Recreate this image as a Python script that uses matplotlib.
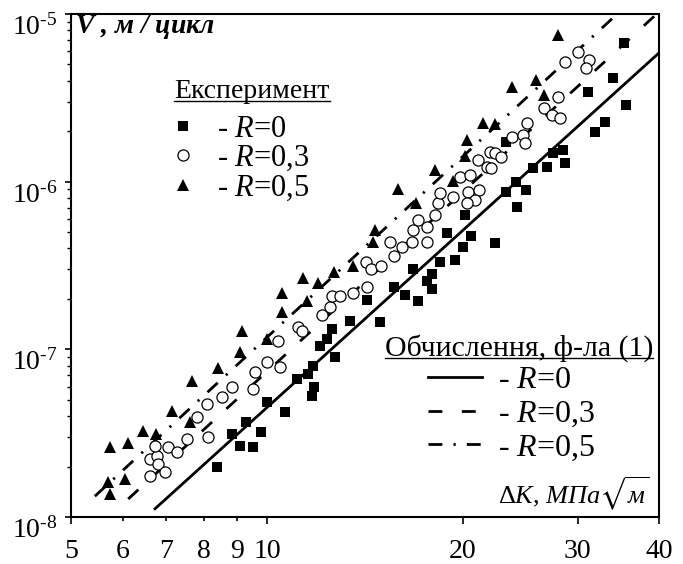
# -*- coding: utf-8 -*-
"""
Fatigue crack growth rate vs stress intensity range (log-log)
"""

import numpy as np
import matplotlib
matplotlib.use('Agg')
import matplotlib.pyplot as plt
from matplotlib.lines import Line2D

plt.rcParams['font.family'] = 'Liberation Serif'
plt.rcParams['mathtext.fontset'] = 'custom'
plt.rcParams['mathtext.rm'] = 'Liberation Serif'
plt.rcParams['mathtext.it'] = 'Liberation Serif:italic'
plt.rcParams['mathtext.bf'] = 'Liberation Serif:bold:italic'
plt.rcParams['mathtext.fallback'] = 'stix'

#------------------------------------------------------------------------------
# Experiment, R=0 (squares)
dk_r0 = [8.38, 8.83, 9.09, 9.52, 9.79, 9.3, 10.0, 10.65, 11.1, 11.55,
         11.8, 11.72, 11.76, 12.06, 12.35, 12.58, 12.7, 13.4, 14.25, 14.9,
         15.65, 16.3, 16.75, 17.05, 17.6, 17.9, 17.95, 18.44, 19.45, 18.9,
         20.0, 20.6, 20.15, 22.4, 23.3, 24.1, 24.2, 25.0, 23.3, 25.6,
         26.9, 27.5, 28.5, 28.7, 31.9, 33.0, 31.1, 34.0, 35.6, 35.4]
v_r0 = [1.98e-8, 3.12e-8, 2.65e-8, 2.61e-8, 3.21e-8, 3.68e-8, 4.84e-8, 4.22e-8, 6.63e-8, 7.1e-8,
        5.94e-8, 5.25e-8, 7.9e-8, 1.04e-7, 1.15e-7, 1.32e-7, 8.96e-8, 1.47e-7, 1.98e-7, 1.45e-7,
        2.37e-7, 2.12e-7, 3.0e-7, 1.93e-7, 2.54e-7, 2.28e-7, 2.8e-7, 3.34e-7, 3.43e-7, 4.97e-7,
        4.1e-7, 4.71e-7, 6.36e-7, 4.33e-7, 8.7e-7, 9.9e-7, 7.1e-7, 8.96e-7, 1.73e-6, 1.21e-6,
        1.23e-6, 1.49e-6, 1.55e-6, 1.3e-6, 1.98e-6, 2.28e-6, 3.43e-6, 4.16e-6, 2.87e-6, 6.72e-6]

# Experiment, R=0.3 (open circles)
dk_r03 = [6.61, 6.77, 6.61, 6.8, 6.97, 6.73, 7.05, 7.28, 7.54, 7.81,
          8.11, 8.09, 8.53, 8.83, 9.52, 9.59, 10.0, 10.47, 10.4, 11.16,
          11.32, 12.14, 12.49, 12.58, 12.94, 13.55, 14.25, 14.2, 14.45, 14.97,
          15.65, 15.45, 16.1, 16.7, 17.6, 16.75, 17.05, 17.6, 18.1, 18.3,
          18.44, 19.3, 19.8, 20.5, 20.35, 21.2, 20.9, 20.3, 21.1, 21.8,
          22.1, 22.0, 22.4, 22.9, 23.8, 24.7, 24.9, 25.1, 26.6, 27.4,
          28.2, 28.0, 28.7, 30.0, 31.2, 30.9]
v_r03 = [2.21e-8, 2.31e-8, 1.75e-8, 2.07e-8, 1.85e-8, 2.65e-8, 2.61e-8, 2.44e-8, 2.91e-8, 3.94e-8,
         3.0e-8, 4.71e-8, 5.18e-8, 5.94e-8, 5.78e-8, 7.3e-8, 8.4e-8, 7.8e-8, 1.12e-7, 1.35e-7,
         1.28e-7, 1.61e-7, 1.78e-7, 2.07e-7, 2.07e-7, 2.18e-7, 2.37e-7, 3.34e-7, 3.0e-7, 3.12e-7,
         3.58e-7, 4.39e-7, 4.1e-7, 4.39e-7, 4.39e-7, 5.18e-7, 5.94e-7, 5.4e-7, 6.36e-7, 7.5e-7,
         8.6e-7, 8.14e-7, 1.06e-6, 1.1e-6, 8.7e-7, 8.96e-7, 7.8e-7, 7.5e-7, 1.35e-6, 1.23e-6,
         1.21e-6, 1.51e-6, 1.49e-6, 1.41e-6, 1.85e-6, 1.9e-6, 1.71e-6, 2.24e-6, 2.76e-6, 2.5e-6,
         2.4e-6, 3.21e-6, 5.18e-6, 5.94e-6, 5.32e-6, 4.77e-6]

# Experiment, R=0.5 (filled triangles)
dk_r05 = [5.70, 5.74, 6.05, 5.74, 6.12, 6.45, 6.75, 7.15, 7.62, 7.67,
          8.41, 9.09, 9.15, 10.0, 10.55, 10.55, 11.35, 11.5, 11.98, 12.66,
          13.55, 14.55, 14.65, 15.9, 16.95, 18.1, 19.3, 20.15, 20.3, 21.5,
          22.4, 23.8, 25.9, 26.6, 28.0]
v_r05 = [1.61e-8, 1.37e-8, 1.68e-8, 2.61e-8, 2.76e-8, 3.25e-8, 3.12e-8, 4.27e-8, 3.68e-8, 6.45e-8,
         7.7e-8, 9.7e-8, 1.28e-7, 1.15e-7, 2.18e-7, 1.68e-7, 2.65e-7, 1.93e-7, 2.5e-7, 2.91e-7,
         3.12e-7, 4.39e-7, 5.18e-7, 9.1e-7, 7.5e-7, 1.18e-6, 1.01e-6, 1.43e-6, 1.78e-6, 2.24e-6,
         2.21e-6, 3.68e-6, 4.05e-6, 3.3e-6, 7.5e-6]

# Calculation, formula (1): line end points
dk_c0 = [6.73, 40.0]
v_c0 = [1.12e-8, 5.86e-6]
dk_c03 = [6.12, 40.0]
v_c03 = [1.28e-8, 1.03e-5]
dk_c05 = [5.44, 34.5]
v_c05 = [1.33e-8, 1.0e-5]

xticks_major = [5, 10, 20, 30, 40]
xlabels_major = ['5', '10', '20', '30', '40']
xticks_minor = [6, 7, 8, 9]
xlabels_minor = ['6', '7', '8', '9']
yticks = [1e-8, 1e-7, 1e-6, 1e-5]
ylabels = [r'$10^{\text{-}8}$', r'$10^{\text{-}7}$', r'$10^{\text{-}6}$', r'$10^{\text{-}5}$']

#------------------------------------------------------------------------------
W, H = 683, 564
fig = plt.figure(figsize=(W/100, H/100), dpi=100)
ax = fig.add_axes([71/W, 1-517/H, 588/W, 503/H])

lw = 2.0
ms = 7.5

ax.plot(dk_c0, v_c0, color='k', linewidth=lw, linestyle='-')
ax.plot(dk_c03, v_c03, color='k', linewidth=lw, dashes=(5, 7))
ax.plot(dk_c05, v_c05, color='k', linewidth=lw, dashes=(5, 4, 0.8, 4))

ax.plot(dk_r0, v_r0, linestyle='', marker='s', markersize=ms-0.5,
        color='k', markeredgewidth=0)
ax.plot(dk_r03, v_r03, linestyle='', marker='o', markersize=ms+0.5,
        markerfacecolor='white', markeredgecolor='k', markeredgewidth=0.9)
ax.plot(dk_r05, v_r05, linestyle='', marker='^', markersize=ms+0.5,
        color='k', markeredgewidth=0)

ax.set_xscale('log')
ax.set_yscale('log')
ax.set_xlim(5, 40)
ax.set_ylim(1e-8, 1e-5)
ax.set_xticks(xticks_major, labels=xlabels_major)
ax.set_xticks(xticks_minor, labels=xlabels_minor, minor=True)
ax.set_yticks(yticks, labels=ylabels)
ax.tick_params(axis='x', which='major', direction='out', length=5, width=1.2,
               labelsize=20, pad=11)
ax.tick_params(axis='x', which='minor', direction='out', length=3, width=1.2,
               labelsize=20, pad=13)
ax.tick_params(axis='y', which='major', direction='out', length=4.5, width=1.2,
               labelsize=20, pad=5)
ax.tick_params(axis='y', which='minor', direction='out', length=3, width=1.0)
for lab_y in ax.get_yticklabels():
    lab_y.set_va('top')
for s in ax.spines.values():
    s.set_linewidth(1.5)

# axis titles inside the frame
ax.text(0.006, 0.975, r'$\mathbf{V}$ , м / цикл', transform=ax.transAxes,
        fontsize=20, fontstyle='italic', fontweight='bold', ha='left', va='center')
ax.text(0.985, 0.045, r'$\Delta K$, $\mathit{МПа}\sqrt{\mathit{м}}$',
        transform=ax.transAxes, fontsize=19, ha='right', va='center')

# legend: experiment
h_exp = [Line2D([], [], linestyle='', marker='s', markersize=ms-0.5, color='k', markeredgewidth=0),
         Line2D([], [], linestyle='', marker='o', markersize=ms+0.5, markerfacecolor='white',
                markeredgecolor='k', markeredgewidth=0.9),
         Line2D([], [], linestyle='', marker='^', markersize=ms+0.5, color='k', markeredgewidth=0)]
lab = ['- $R$=0', '- $R$=0,3', '- $R$=0,5']
leg1 = ax.legend(h_exp, lab, frameon=False, fontsize=22, loc='upper left',
                 bbox_to_anchor=(103/588, 1-101/503), borderpad=0, borderaxespad=0,
                 handlelength=0.6, handletextpad=0.8, labelspacing=0.0)
ax.add_artist(leg1)
t1 = ax.text(181/588, 1-78/503, 'Експеримент', transform=ax.transAxes,
             fontsize=20, ha='center', va='center')

# legend: calculation
h_calc = [Line2D([], [], color='k', linewidth=lw),
          Line2D([], [], color='k', linewidth=lw, dashes=(5, 7)),
          Line2D([], [], color='k', linewidth=lw, dashes=(5, 4, 0.8, 4))]
leg2 = ax.legend(h_calc, lab, frameon=False, fontsize=23, loc='upper left',
                 bbox_to_anchor=(357/588, 1-352/503), borderpad=0, borderaxespad=0,
                 handlelength=1.7, handletextpad=0.5, labelspacing=0.13)
t2 = ax.text(448/588, 1-334/503, 'Обчислення, ф-ла (1)', transform=ax.transAxes,
             fontsize=21.5, ha='center', va='center')

# underline legend titles
fig.canvas.draw()
r = fig.canvas.get_renderer()
inv = fig.transFigure.inverted()
for t in [t1, t2]:
    bb = t.get_window_extent(r)
    (x0, y0), (x1, y1) = inv.transform([[bb.x0, bb.y0 + 4], [bb.x1, bb.y0 + 4]])
    fig.add_artist(Line2D([x0, x1], [y0, y1], color='k', linewidth=1.0,
                          transform=fig.transFigure))

fig.savefig('out.png', dpi=100)
